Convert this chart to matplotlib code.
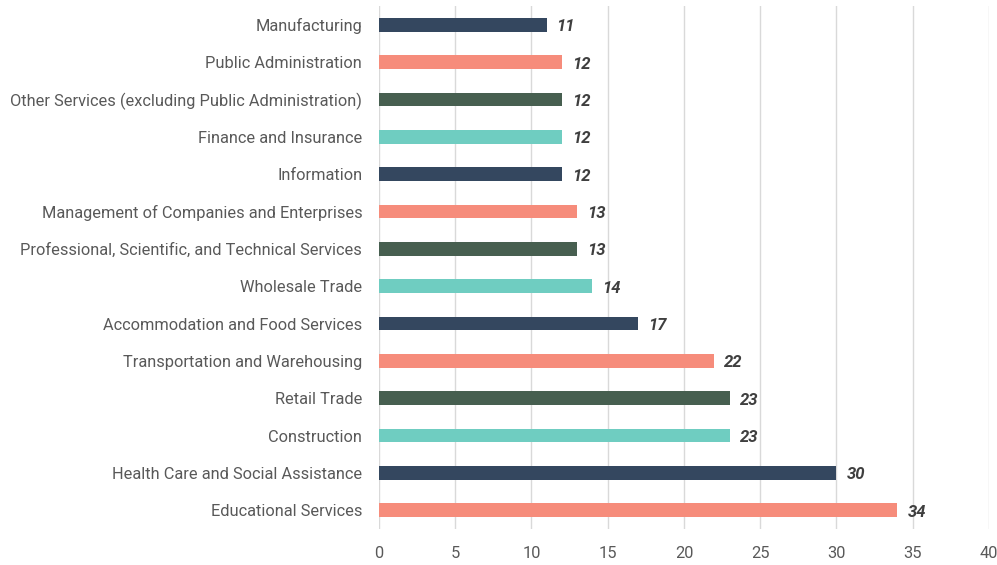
import matplotlib
matplotlib.use("Agg")
import matplotlib.pyplot as plt

industries = [
    "Manufacturing",
    "Public Administration",
    "Other Services (excluding Public Administration)",
    "Finance and Insurance",
    "Information",
    "Management of Companies and Enterprises",
    "Professional, Scientific, and Technical Services",
    "Wholesale Trade",
    "Accommodation and Food Services",
    "Transportation and Warehousing",
    "Retail Trade",
    "Construction",
    "Health Care and Social Assistance",
    "Educational Services",
]
values = [11, 12, 12, 12, 12, 13, 13, 14, 17, 22, 23, 23, 30, 34]
palette = ["#34475f", "#f68c7b", "#475f50", "#6fcdc1"]
colors = [palette[i % 4] for i in range(len(values))]

plt.rcParams["font.family"] = ["Roboto", "DejaVu Sans"]

fig = plt.figure(figsize=(9.97, 5.65), dpi=100)
ax = fig.add_axes([0.380, 0.064, 0.612, 0.925])

ypos = list(range(len(values)))
ax.barh(ypos, values, height=0.37, color=colors, zorder=3)
for y, v in zip(ypos, values):
    ax.text(v + 0.65, y + 0.05, str(v), va="center", ha="left", fontsize=12,
            fontweight="bold", fontstyle="italic", color="#3f3f3f", zorder=4)

ax.set_yticks(ypos)
ax.set_yticklabels(industries)
ax.set_ylim(len(values) - 0.5, -0.5)
ax.set_xlim(0, 40)
ax.set_xticks(range(0, 41, 5))
ax.tick_params(axis="both", length=0, labelsize=11.8, labelcolor="#595959")
ax.tick_params(axis="y", pad=12)
ax.tick_params(axis="x", pad=12)
ax.grid(axis="x", color="#d9d9d9", linewidth=1, zorder=0)
for s in ax.spines.values():
    s.set_visible(False)

fig.savefig("out.png", dpi=100)
